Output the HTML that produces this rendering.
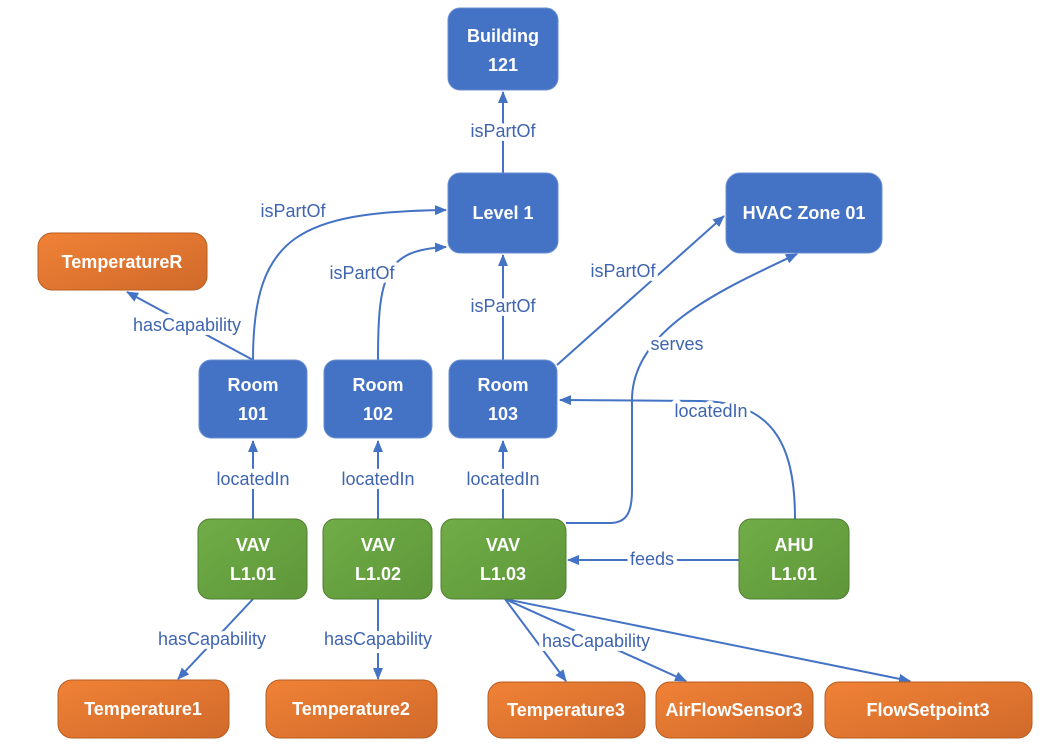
<!DOCTYPE html>
<html><head><meta charset="utf-8"><style>
body{margin:0;background:#fff}
svg{display:block}
.n{font-family:"Liberation Sans",sans-serif;font-weight:bold;font-size:18px;fill:#fff;text-anchor:middle}
.l{font-family:"Liberation Sans",sans-serif;font-size:18px;fill:#3f65b0;text-anchor:middle;stroke:#fff;stroke-width:8px;paint-order:stroke;stroke-linejoin:round}
.e{stroke:#4472c4;stroke-width:2;fill:none;marker-end:url(#a)}
.b{fill:#4472c4;stroke:#6a8fd4;stroke-width:1}
.g{fill:url(#gg);stroke:#507e32;stroke-width:1}
.o{fill:url(#og);stroke:#b85d1f;stroke-width:1}
</style></head><body>
<svg width="1052" height="754" viewBox="0 0 1052 754">
<defs>
<marker id="a" markerWidth="12" markerHeight="10" refX="11" refY="5" orient="auto" markerUnits="userSpaceOnUse"><path d="M0,0 L12,5 L0,10 z" fill="#4472c4"/></marker>
<linearGradient id="gg" x1="0" y1="0" x2="1" y2="1"><stop offset="0" stop-color="#70ad47"/><stop offset="1" stop-color="#5e9639"/></linearGradient>
<linearGradient id="og" x1="0" y1="0" x2="1" y2="1"><stop offset="0" stop-color="#f08236"/><stop offset="1" stop-color="#d0692a"/></linearGradient>
</defs>
<!-- edges -->
<path class="e" d="M503,173 L503,92"/>
<path class="e" d="M503,360 L503,255"/>
<path class="e" d="M253,360 C253,235 300,212 446,210"/>
<path class="e" d="M378,360 C378,275 385,250 446,247"/>
<path class="e" d="M253,360 L127,292"/>
<path class="e" d="M557,365 L724,216"/>
<path class="e" d="M566,523 L610,523 C628,523 632,510 632,490 L632,400 C632,330 720,290 797,254"/>
<path class="e" d="M795,519 C795,440 770,402 700,401 L560,400"/>
<path class="e" d="M739,560 L568,560"/>
<path class="e" d="M253,519 L253,441"/>
<path class="e" d="M378,519 L378,441"/>
<path class="e" d="M503,519 L503,441"/>
<path class="e" d="M253,599 L178,679"/>
<path class="e" d="M378,599 L378,679"/>
<path class="e" d="M505,599 L566,681"/>
<path class="e" d="M505,599 L686,681"/>
<path class="e" d="M505,599 L910,681"/>
<!-- labels -->
<text class="l" x="503" y="137">isPartOf</text>
<text class="l" x="503" y="312">isPartOf</text>
<text class="l" x="293" y="217">isPartOf</text>
<text class="l" x="362" y="279">isPartOf</text>
<text class="l" x="187" y="331">hasCapability</text>
<text class="l" x="623" y="277">isPartOf</text>
<text class="l" x="677" y="350">serves</text>
<text class="l" x="711" y="417">locatedIn</text>
<text class="l" x="652" y="565">feeds</text>
<text class="l" x="253" y="485">locatedIn</text>
<text class="l" x="378" y="485">locatedIn</text>
<text class="l" x="503" y="485">locatedIn</text>
<text class="l" x="212" y="645">hasCapability</text>
<text class="l" x="378" y="645">hasCapability</text>
<text class="l" x="596" y="647">hasCapability</text>
<!-- nodes -->
<rect class="b" x="448" y="8" width="110" height="82" rx="12"/><text class="n" x="503" y="42">Building</text><text class="n" x="503" y="71">121</text>
<rect class="b" x="448" y="173" width="110" height="80" rx="12"/><text class="n" x="503" y="219">Level 1</text>
<rect class="b" x="726" y="173" width="156" height="80" rx="14"/><text class="n" x="804" y="219">HVAC Zone 01</text>
<rect class="o" x="38" y="233" width="169" height="57" rx="14"/><text class="n" x="122" y="268">TemperatureR</text>
<rect class="b" x="199" y="360" width="108" height="78" rx="12"/><text class="n" x="253" y="391">Room</text><text class="n" x="253" y="420">101</text>
<rect class="b" x="324" y="360" width="108" height="78" rx="12"/><text class="n" x="378" y="391">Room</text><text class="n" x="378" y="420">102</text>
<rect class="b" x="449" y="360" width="108" height="78" rx="12"/><text class="n" x="503" y="391">Room</text><text class="n" x="503" y="420">103</text>
<rect class="g" x="198" y="519" width="109" height="80" rx="12"/><text class="n" x="253" y="551">VAV</text><text class="n" x="253" y="580">L1.01</text>
<rect class="g" x="323" y="519" width="109" height="80" rx="12"/><text class="n" x="378" y="551">VAV</text><text class="n" x="378" y="580">L1.02</text>
<rect class="g" x="441" y="519" width="125" height="80" rx="12"/><text class="n" x="503" y="551">VAV</text><text class="n" x="503" y="580">L1.03</text>
<rect class="g" x="739" y="519" width="110" height="80" rx="12"/><text class="n" x="794" y="551">AHU</text><text class="n" x="794" y="580">L1.01</text>
<rect class="o" x="58" y="680" width="171" height="58" rx="14"/><text class="n" x="143" y="715">Temperature1</text>
<rect class="o" x="266" y="680" width="171" height="58" rx="14"/><text class="n" x="351" y="715">Temperature2</text>
<rect class="o" x="488" y="682" width="157" height="56" rx="14"/><text class="n" x="566" y="716">Temperature3</text>
<rect class="o" x="656" y="682" width="157" height="56" rx="14"/><text class="n" x="734" y="716">AirFlowSensor3</text>
<rect class="o" x="825" y="682" width="207" height="56" rx="14"/><text class="n" x="928" y="716">FlowSetpoint3</text>
</svg>
</body></html>
